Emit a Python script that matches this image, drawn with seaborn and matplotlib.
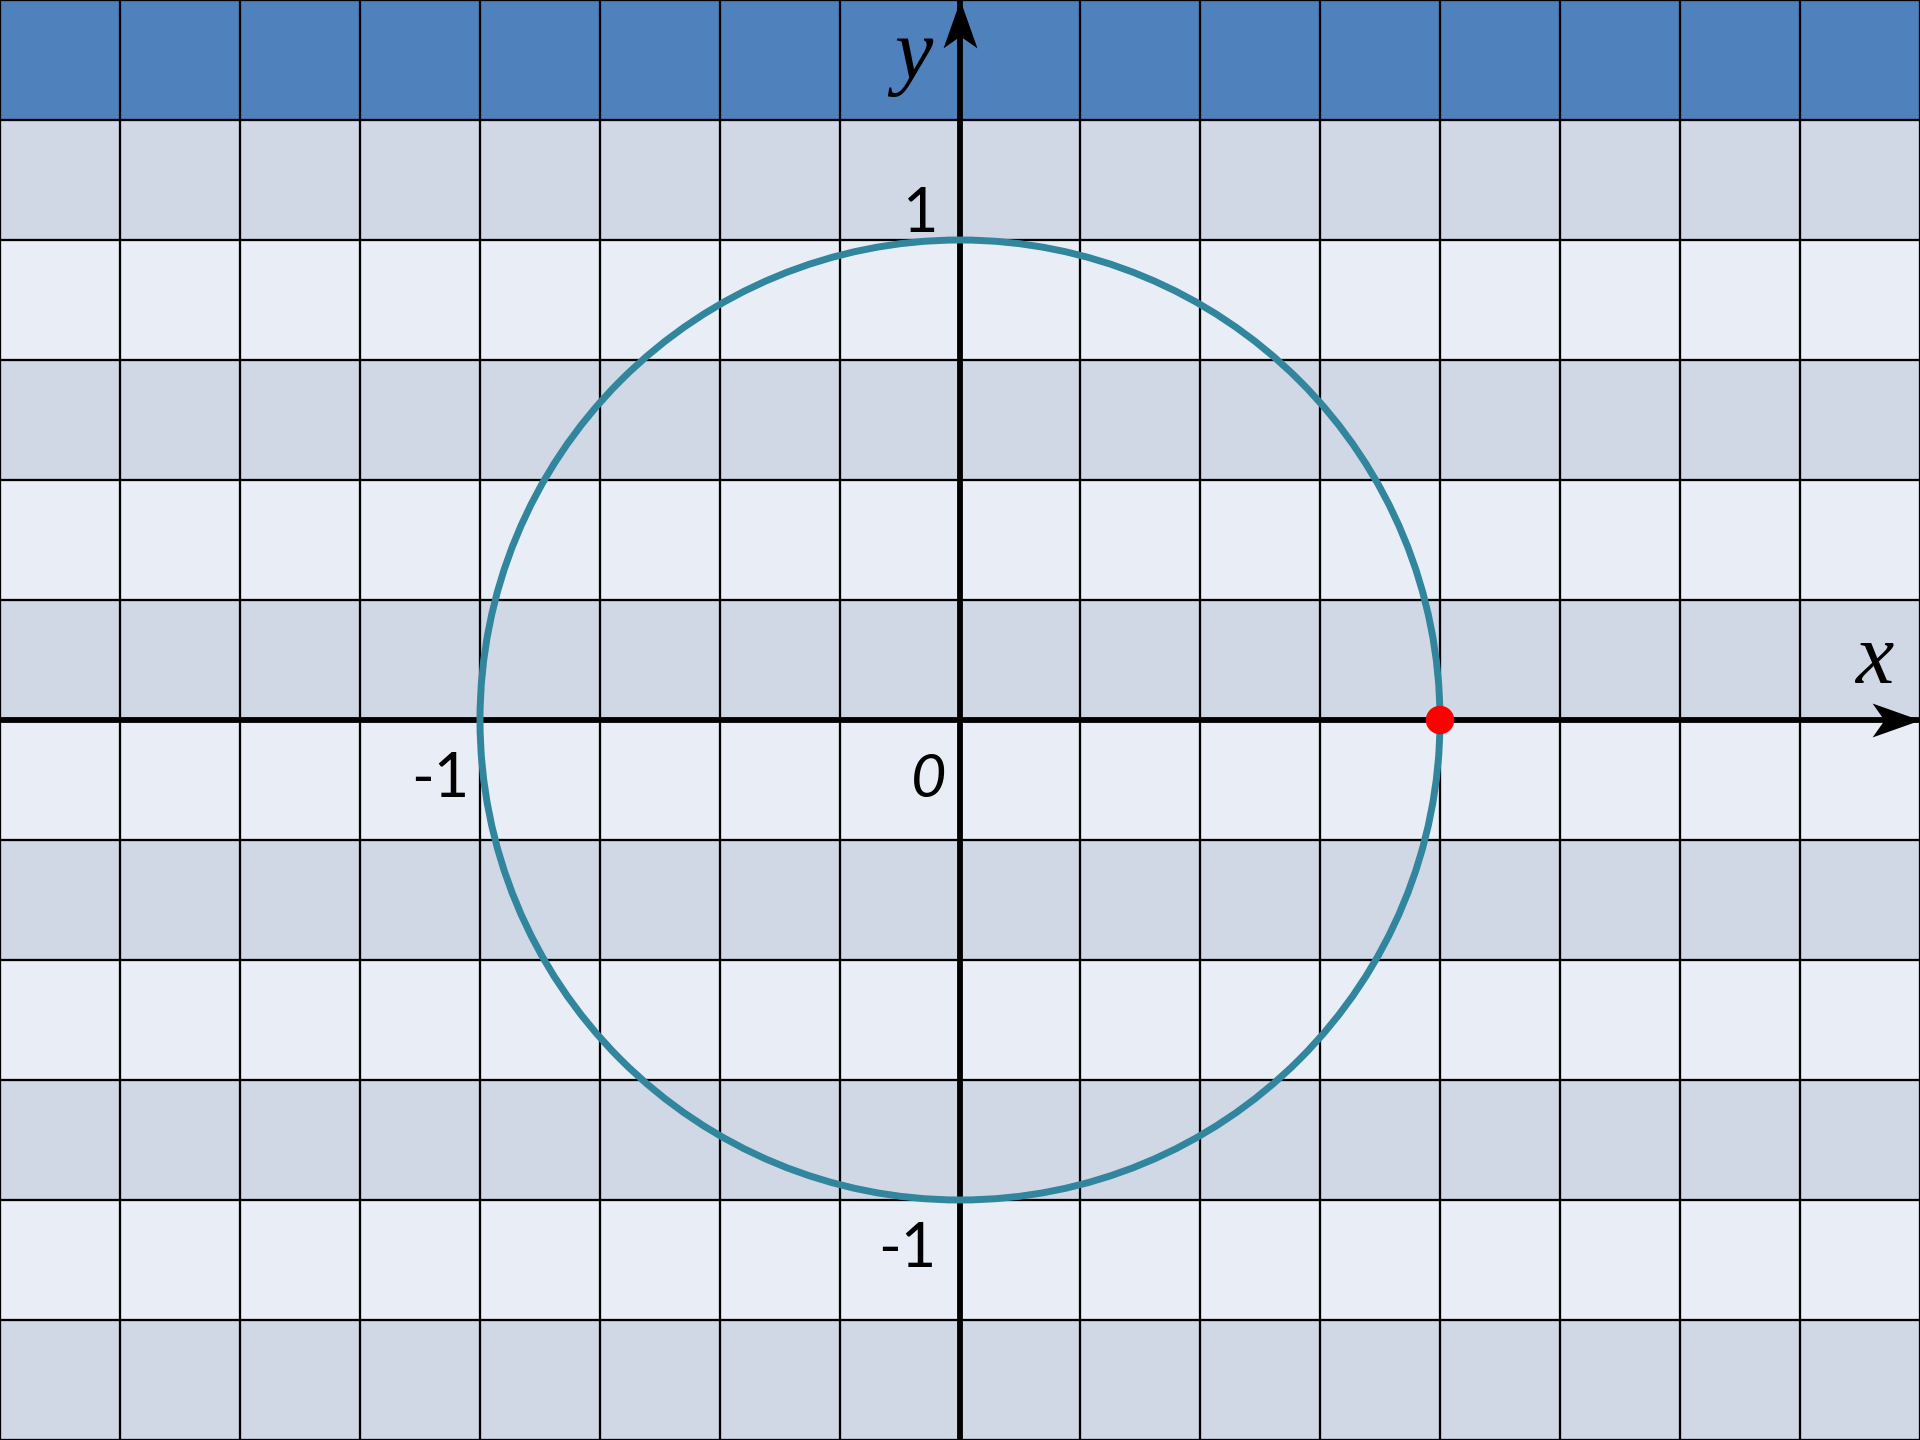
import numpy as np
import matplotlib
matplotlib.use("Agg")
import matplotlib.pyplot as plt
import matplotlib.patches as mpatches
from matplotlib.path import Path
import seaborn as sns
import pandas as pd

# ---- data ----
x_range = [-2.0, 2.0]
y_range = [-1.5, 1.5]
grid_step = 0.25
row_colors = ["#4F81BD", "#D0D8E6", "#E9EEF6", "#D0D8E6", "#E9EEF6", "#D0D8E6",
              "#E9EEF6", "#D0D8E6", "#E9EEF6", "#D0D8E6", "#E9EEF6", "#D0D8E6"]
circle_center = (0.0, 0.0)
circle_radius = 1.0
point_x = [1.0]
point_y = [0.0]
tick_labels = ["1", "-1", "-1"]
tick_label_pos = [(-0.081, 1.017), (-1.083, -0.160), (-0.110, -1.140)]
origin_label = "0"
origin_pos = (-0.065, -0.160)
axis_names = ["x", "y"]
axis_name_pos = [(1.905, 0.077), (-0.098, 1.3375)]

sns.set_theme(style="white")
plt.rcParams['font.family'] = ['Lato', 'DejaVu Sans']

fig = plt.figure(figsize=(19.2, 14.4), dpi=100)
ax = fig.add_axes([0, 0, 1, 1])

# background rows (top to bottom)
for i, c in enumerate(row_colors):
    top = y_range[1] - i * grid_step
    ax.axhspan(top - grid_step, top, color=c, lw=0, zorder=0)

# grid lines
xs = np.arange(x_range[0], x_range[1] + 1e-9, grid_step)
ys = np.arange(y_range[0], y_range[1] + 1e-9, grid_step)
for xv in xs:
    ax.axvline(xv, color="black", lw=1.65, zorder=1)
for yv in ys:
    ax.axhline(yv, color="black", lw=1.65, zorder=1)

# axes lines
ax.axhline(0, color="black", lw=4.2, zorder=3)
ax.axvline(0, color="black", lw=4.2, zorder=3)

# stealth arrowheads as custom markers
head_right = Path([(0, 0), (-48, 17), (-36, 0), (-48, -17), (0, 0)],
                  [Path.MOVETO, Path.LINETO, Path.LINETO, Path.LINETO, Path.CLOSEPOLY])
head_up = Path([(0, 0), (17, -48), (0, -36), (-17, -48), (0, 0)],
               [Path.MOVETO, Path.LINETO, Path.LINETO, Path.LINETO, Path.CLOSEPOLY])
ax.plot([x_range[1]], [0], marker=head_right, markersize=69, color="black",
        markeredgewidth=0, clip_on=False, zorder=6)
ax.plot([0], [y_range[1]], marker=head_up, markersize=69, color="black",
        markeredgewidth=0, clip_on=False, zorder=6)

# unit circle
circ = mpatches.Circle(circle_center, circle_radius, fill=False,
                       edgecolor="#31859C", lw=5.0, zorder=4)
ax.add_patch(circ)

# red point
df = pd.DataFrame({"x": point_x, "y": point_y})
sns.scatterplot(data=df, x="x", y="y", ax=ax, s=420, color="#FF0000",
                edgecolor="none", zorder=5, legend=False)

ax.set_xlim(*x_range)
ax.set_ylim(*y_range)
ax.set_axis_off()

# labels
for t, (lx, ly) in zip(tick_labels, tick_label_pos):
    ax.text(lx, ly, t, fontsize=44, ha="center", va="baseline", color="black", zorder=7)
ax.text(origin_pos[0], origin_pos[1], origin_label, fontsize=44, style="italic",
        ha="center", va="baseline", color="black", zorder=7)
for t, (lx, ly) in zip(axis_names, axis_name_pos):
    ax.text(lx, ly, t, fontsize=62, style="italic", family="Liberation Serif",
            ha="center", va="baseline", color="black", zorder=7)

fig.savefig("out.png", dpi=100)
